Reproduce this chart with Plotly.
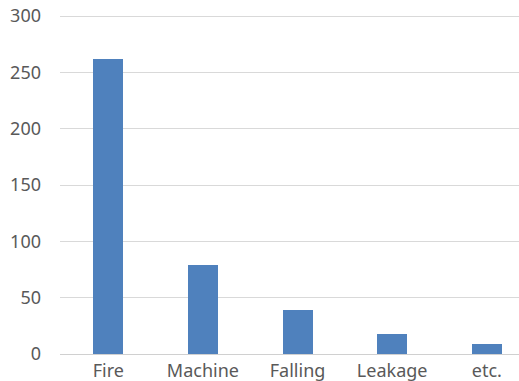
import plotly.graph_objects as go

categories = ["Fire", "Machine", "Falling", "Leakage", "etc."]
counts = [262, 79, 39, 18, 9]
y_ticks = [0, 50, 100, 150, 200, 250, 300]

fig = go.Figure(
    go.Bar(
        x=categories,
        y=counts,
        width=0.317,
        marker=dict(color="#4f81bd", line=dict(width=0)),
        hoverinfo="x+y",
    )
)

fig.update_layout(
    width=519,
    height=381,
    margin=dict(l=60, r=0, t=15, b=27, autoexpand=False),
    plot_bgcolor="white",
    paper_bgcolor="white",
    font=dict(family="Noto Sans, Open Sans, sans-serif", size=18, color="#595959"),
    showlegend=False,
    bargap=0,
)

fig.update_xaxes(
    range=[-0.51, 4.34],
    showgrid=False,
    showline=True,
    linecolor="#d0d0d0",
    linewidth=1,
    ticks="",
    zeroline=False,
)

fig.update_yaxes(
    range=[0, 301],
    tickvals=y_ticks,
    showgrid=True,
    gridcolor="#d9d9d9",
    gridwidth=1,
    zeroline=False,
    showline=False,
    ticks="",
    ticklabelstandoff=18,
)

fig.write_html("out.html")
